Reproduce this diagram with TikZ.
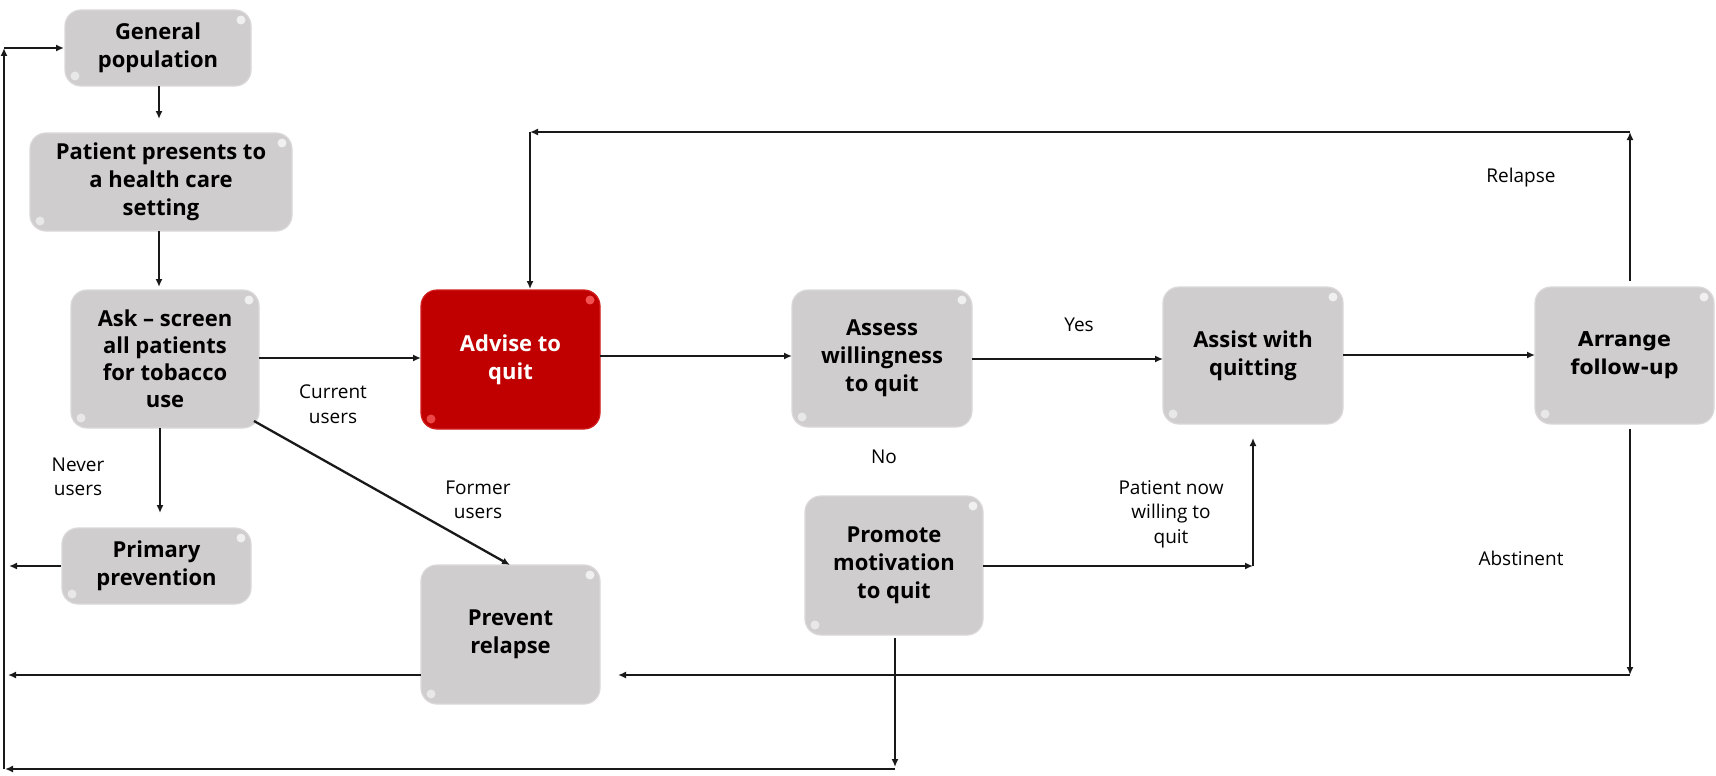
\documentclass[tikz,border=0pt]{standalone}
\usepackage{fontspec}
\setmainfont{Open Sans}
\newfontfamily\arrfont{DejaVu Sans}
\usetikzlibrary{arrows.meta}
\definecolor{boxgray}{RGB}{207,205,205}
\definecolor{boxedge}{RGB}{218,216,216}
\definecolor{boxred}{RGB}{192,0,0}
\definecolor{rededge}{RGB}{210,30,30}
\definecolor{linecol}{RGB}{25,25,25}
\tikzset{
  gbox/.style={rounded corners=16pt, fill=boxgray, draw=boxedge, line width=1.2pt,
    align=center, inner sep=0pt, text=black,
    font=\fontsize{22}{28}\selectfont\bfseries,
    path picture={
      \fill[white,opacity=0.7] ([xshift=-10pt,yshift=-10pt]path picture bounding box.north east) circle (4.5pt);
      \fill[white,opacity=0.55] ([xshift=10pt,yshift=10pt]path picture bounding box.south west) circle (4.5pt);
    }},
  rbox/.style={gbox, fill=boxred, draw=rededge, text=white,
    path picture={
      \fill[red!60!white,opacity=0.8] ([xshift=-10pt,yshift=-10pt]path picture bounding box.north east) circle (4.5pt);
      \fill[red!60!white,opacity=0.7] ([xshift=10pt,yshift=10pt]path picture bounding box.south west) circle (4.5pt);
    }},
  conn/.style={draw=linecol, line width=2.3pt, -{Latex[length=8pt,width=7pt]}},
  lbl/.style={align=center, inner sep=0pt, text=black, font=\fontsize{19}{24.5}\selectfont}
}
\begin{document}
\begin{tikzpicture}[x=1pt,y=-1pt]
\useasboundingbox (0,0) rectangle (1716,776);
% boxes
\node[gbox, minimum width=186pt, minimum height=76pt] (gen) at (158,48) {General\\population};
\node[gbox, minimum width=262pt, minimum height=98pt] (pat) at (161,182) {Patient presents to\\a health care\\setting};
\node[gbox, minimum width=188pt, minimum height=138pt, font=\fontsize{22}{27}\selectfont\bfseries] (ask) at (165,359) {Ask -- screen\\all patients\\for tobacco\\use};
\node[gbox, minimum width=189pt, minimum height=76pt] (prim) at (156.5,566) {Primary\\prevention};
\node[rbox, minimum width=179pt, minimum height=139pt] (adv) at (510.5,359.5) {Advise to\\quit};
\node[gbox, minimum width=179pt, minimum height=139pt] (prev) at (510.5,634.5) {Prevent\\relapse};
\node[gbox, minimum width=180pt, minimum height=137pt] (asse) at (882,358.5) {Assess\\willingness\\to quit};
\node[gbox, minimum width=178pt, minimum height=139pt] (prom) at (894,565.5) {Promote\\motivation\\to quit};
\node[gbox, minimum width=180pt, minimum height=137pt] (asst) at (1253,355.5) {Assist with\\quitting};
\node[gbox, minimum width=179pt, minimum height=137pt, font=\arrfont\fontsize{20.5}{28}\selectfont\bfseries] (arr) at (1624.5,355.5) {Arrange\\follow-up};
% labels
\node[lbl] (lcur) at (333,404) {Current\\users};
\node[lbl] (lnev) at (78,477) {Never\\users};
\node[lbl] (lfor) at (478,500) {Former\\users};
\node[lbl] (lyes) at (1079,325) {Yes};
\node[lbl] (lno) at (884,457) {No};
\node[lbl] (lpat) at (1171,514) {Patient now\\willing to\\quit};
\node[lbl] (lrel) at (1521,178) {Relapse};
\node[lbl] (labs) at (1521,558) {Abstinent};
% corner coordinates
\coordinate (genin) at (4,48);
\coordinate (genarr) at (64,48);
\coordinate (pattop) at (159,119);
\coordinate (genbot) at (159,86);
\coordinate (patbot) at (159,231);
\coordinate (asktop) at (159,287);
\coordinate (askbot) at (160,428);
\coordinate (primtop) at (160,513);
\coordinate (askse) at (254,421);
\coordinate (prevtop) at (510,565);
\coordinate (primleft) at (9,566);
\coordinate (askr) at (259,358);
\coordinate (advl) at (421,358);
\coordinate (advr) at (600,356);
\coordinate (assel) at (792,356);
\coordinate (asser) at (972,359);
\coordinate (asstl) at (1163,359);
\coordinate (asstr) at (1343,355);
\coordinate (arrl) at (1535,355);
\coordinate (relbot) at (1630,281);
\coordinate (reltop) at (1630,132);
\coordinate (relleft) at (530,132);
\coordinate (advtop) at (530,289);
\coordinate (absbot) at (1630,429);
\coordinate (abscorner) at (1630,675);
\coordinate (absend) at (618,675);
\coordinate (prevl) at (421,675);
\coordinate (prevend) at (8,675);
\coordinate (promr) at (983,566);
\coordinate (promcorner) at (1253,566);
\coordinate (asstbot) at (1253,438);
\coordinate (prombot) at (895,638);
\coordinate (promdown) at (895,767);
\coordinate (botr) at (895,769);
\coordinate (botl) at (5,769);
\coordinate (leftbot) at (4,769);
% connectors
\draw[conn] (genbot) -- (pattop);
\draw[conn] (patbot) -- (asktop);
\draw[conn] (askbot) -- (primtop);
\draw[conn] (askse) -- (prevtop);
\draw[conn] (prim.west) -- (primleft);
\draw[conn] (askr) -- (advl);
\draw[conn] (advr) -- (assel);
\draw[conn] (asser) -- (asstl);
\draw[conn] (asstr) -- (arrl);
\draw[conn] (relbot) -- (reltop);
\draw[conn] (reltop) -- (relleft);
\draw[conn] (relleft) -- (advtop);
\draw[conn] (absbot) -- (abscorner);
\draw[conn] (abscorner) -- (absend);
\draw[conn] (prevl) -- (prevend);
\draw[conn] (promr) -- (promcorner);
\draw[conn] (promcorner) -- (asstbot);
\draw[conn] (prombot) -- (promdown);
\draw[conn] (botr) -- (botl);
\draw[conn] (leftbot) -- (genin);
\draw[conn] (genin) -- (genarr);
\end{tikzpicture}
\end{document}
